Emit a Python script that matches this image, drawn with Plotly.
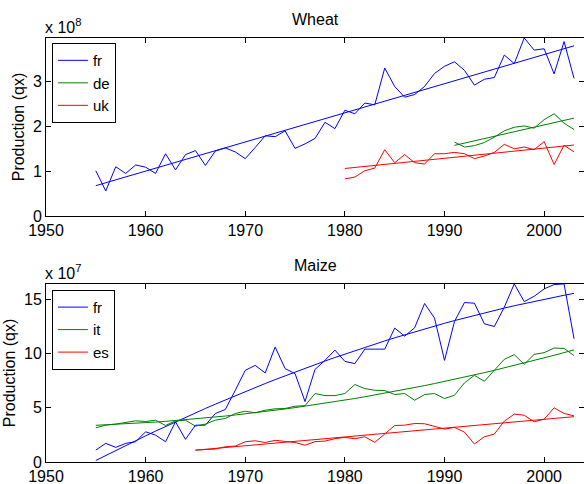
import numpy as np
import plotly.graph_objects as go

# ---- data (Wheat in units of 1e8 qx, Maize in units of 1e7 qx) ----
wheat_fr_years = list(range(1955, 2004))
wheat_fr = [1.01, 0.56, 1.10, 0.95, 1.14, 1.09, 0.95, 1.39, 1.03, 1.37,
            1.46, 1.13, 1.45, 1.52, 1.43, 1.28, 1.53, 1.79, 1.77, 1.90,
            1.51, 1.61, 1.73, 2.09, 1.95, 2.36, 2.28, 2.52, 2.48, 3.30,
            2.89, 2.65, 2.71, 2.89, 3.18, 3.34, 3.44, 3.25, 2.92, 3.05,
            3.09, 3.59, 3.40, 3.97, 3.70, 3.73, 3.17, 3.89, 3.07]
wheat_de_years = list(range(1991, 2004))
wheat_de = [1.65, 1.54, 1.57, 1.64, 1.76, 1.90, 1.98, 2.01, 1.96, 2.15,
            2.28, 2.07, 1.93]
wheat_uk_years = list(range(1980, 2004))
wheat_uk = [0.83, 0.87, 1.01, 1.07, 1.48, 1.19, 1.37, 1.19, 1.16, 1.39,
            1.39, 1.42, 1.39, 1.28, 1.34, 1.42, 1.60, 1.50, 1.54, 1.48,
            1.66, 1.15, 1.58, 1.43]

maize_fr_years = list(range(1955, 2004))
maize_fr = [1.10, 1.72, 1.35, 1.72, 1.87, 2.79, 2.48, 1.87, 3.71, 2.09,
            3.40, 3.40, 4.48, 4.85, 6.62, 8.46, 8.92, 8.22, 10.61, 8.62,
            8.16, 5.58, 8.55, 9.38, 10.33, 9.29, 9.08, 10.42, 10.42, 10.42,
            12.36, 11.62, 12.39, 14.63, 13.28, 9.38, 12.97, 14.72, 14.66, 12.76,
            12.51, 14.29, 16.44, 14.81, 15.30, 15.98, 16.38, 16.44, 11.38]
maize_it_years = list(range(1955, 2004))
maize_it = [3.16, 3.40, 3.50, 3.62, 3.80, 3.74, 3.86, 3.37, 3.80, 3.86,
            3.31, 3.50, 3.86, 4.02, 4.48, 4.69, 4.54, 4.78, 4.91, 4.94,
            5.15, 5.20, 6.32, 6.13, 6.13, 6.32, 7.15, 6.78, 6.62, 6.60,
            6.23, 6.32, 5.70, 6.23, 6.32, 5.86, 6.16, 7.30, 8.00, 7.45,
            8.46, 9.48, 9.91, 9.02, 9.94, 10.09, 10.52, 10.49, 9.82]
maize_es_years = list(range(1965, 2004))
maize_es = [1.10, 1.17, 1.20, 1.41, 1.47, 1.87, 1.96, 1.80, 2.00, 1.90,
            1.80, 1.55, 1.88, 1.93, 2.15, 2.27, 2.15, 2.33, 1.81, 2.58,
            3.37, 3.40, 3.56, 3.53, 3.25, 3.04, 3.19, 2.76, 1.66, 2.33,
            2.58, 3.77, 4.42, 4.32, 3.71, 3.96, 5.00, 4.48, 4.26]

x_ticks = [1950, 1960, 1970, 1980, 1990, 2000]
wheat_yticks = [0, 1, 2, 3]
maize_yticks = [0, 5, 10, 15]

BLUE, GREEN, RED = "rgb(0,0,255)", "rgb(0,128,0)", "rgb(255,0,0)"
FONT = "Liberation Sans, Arial, sans-serif"
FS = 16

fig = go.Figure()

def add_series(years, vals, name, color, xa, ya, legend, deg):
    fig.add_trace(go.Scatter(x=years, y=vals, mode="lines", name=name,
                             line=dict(color=color, width=1),
                             xaxis=xa, yaxis=ya, legend=legend))
    c = np.polyfit(years, vals, deg)
    fit = np.polyval(c, years)
    fig.add_trace(go.Scatter(x=years, y=fit, mode="lines", showlegend=False,
                             line=dict(color=color, width=1),
                             xaxis=xa, yaxis=ya, hoverinfo="skip"))

add_series(wheat_fr_years, wheat_fr, "fr", BLUE, "x", "y", "legend", 1)
add_series(wheat_de_years, wheat_de, "de", GREEN, "x", "y", "legend", 1)
add_series(wheat_uk_years, wheat_uk, "uk", RED, "x", "y", "legend", 1)
add_series(maize_fr_years, maize_fr, "fr", BLUE, "x2", "y2", "legend2", 2)
add_series(maize_it_years, maize_it, "it", GREEN, "x2", "y2", "legend2", 2)
add_series(maize_es_years, maize_es, "es", RED, "x2", "y2", "legend2", 1)

axis_common = dict(showline=True, linecolor="black", linewidth=1, mirror="ticks",
                   ticks="inside", ticklen=5, tickcolor="black", showgrid=False,
                   zeroline=False, automargin=False,
                   tickfont=dict(family=FONT, size=FS, color="black"))

top_dom = [0.580, 1.0]
bot_dom = [0.0, 0.42]

legend_common = dict(xanchor="left", yanchor="top", bgcolor="white",
                     bordercolor="black", borderwidth=1, font=dict(size=15),
                     tracegroupgap=0, itemwidth=30)

fig.update_layout(
    width=584, height=484,
    margin=dict(l=46, r=0, t=38, b=22, autoexpand=False),
    paper_bgcolor="white", plot_bgcolor="white",
    font=dict(family=FONT, size=FS, color="black"),
    xaxis=dict(domain=[0, 1], anchor="y", range=[1950, 2004], tickvals=x_ticks, **axis_common),
    yaxis=dict(domain=top_dom, anchor="x", range=[0, max(wheat_fr)], tickvals=wheat_yticks,
               title=dict(text="Production (qx)", standoff=4, font=dict(size=FS)), **axis_common),
    xaxis2=dict(domain=[0, 1], anchor="y2", range=[1950, 2004], tickvals=x_ticks, **axis_common),
    yaxis2=dict(domain=bot_dom, anchor="x2", range=[0, max(maize_fr)], tickvals=maize_yticks,
                title=dict(text="Production (qx)", standoff=4, font=dict(size=FS)), **axis_common),
    legend=dict(x=0.011, y=0.988, **legend_common),
    legend2=dict(x=0.011, y=0.406, **legend_common),
    showlegend=True,
    annotations=[
        dict(text="Wheat", x=0.5, y=1.0, xref="paper", yref="paper", xanchor="center",
             yanchor="bottom", yshift=8, showarrow=False, font=dict(size=FS)),
        dict(text="Maize", x=0.5, y=0.42, xref="paper", yref="paper", xanchor="center",
             yanchor="bottom", yshift=8, showarrow=False, font=dict(size=FS)),
        dict(text="x 10<sup>8</sup>", x=0, y=1.0, xref="paper", yref="paper", xanchor="left",
             yanchor="bottom", xshift=-3, yshift=0, showarrow=False, font=dict(size=FS)),
        dict(text="x 10<sup>7</sup>", x=0, y=0.42, xref="paper", yref="paper", xanchor="left",
             yanchor="bottom", xshift=-3, yshift=0, showarrow=False, font=dict(size=FS)),
    ],
)

fig.write_html("out.html", config={"displayModeBar": False},
               post_script="document.body.style.margin='0';document.body.style.overflow='hidden';")
